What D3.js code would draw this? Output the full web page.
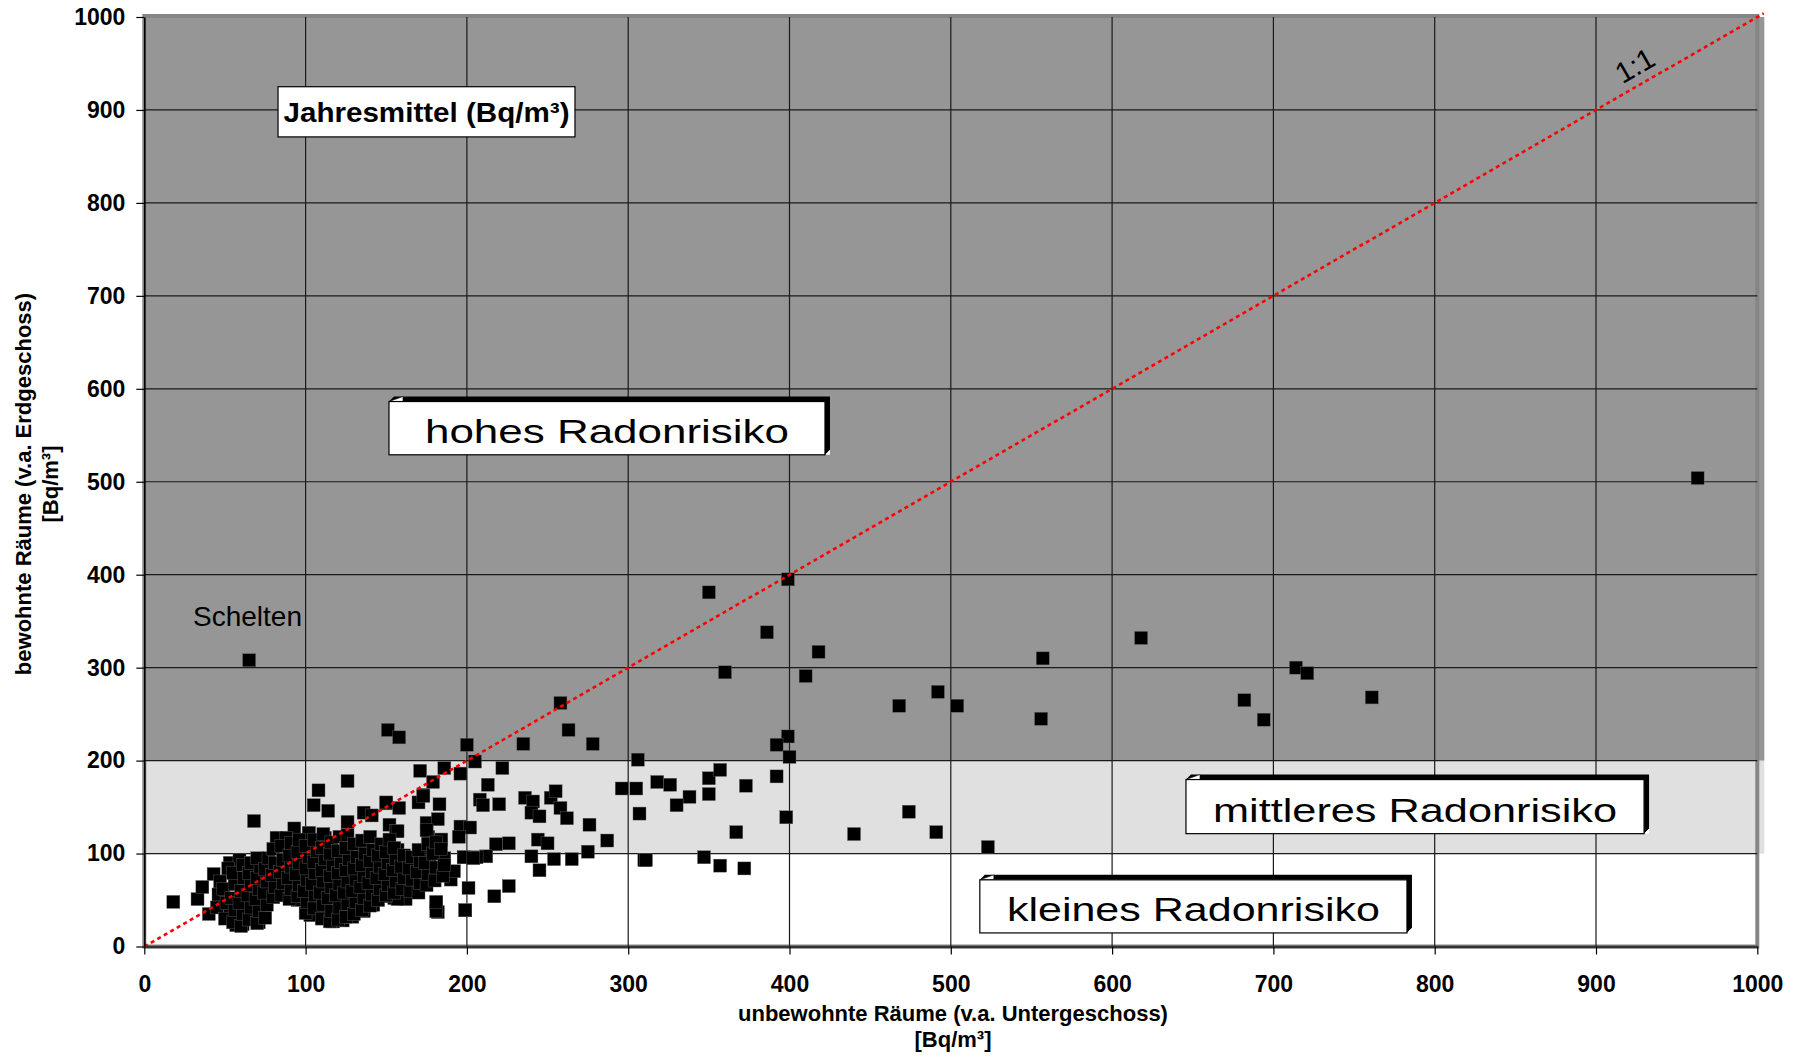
<!DOCTYPE html>
<html>
<head>
<meta charset="utf-8">
<script src="https://cdn.jsdelivr.net/npm/d3@7/dist/d3.min.js"></script>
<style>
  body { margin: 0; background: #fff; }
  svg { display: block; font-family: "Liberation Sans", Arial, sans-serif; }
</style>
</head>
<body>
<svg width="1798" height="1058"></svg>
<script>
// Achsen-Ticks
const ticks = [0, 100, 200, 300, 400, 500, 600, 700, 800, 900, 1000];

// Risikobereiche (Bq/m3 in bewohnten Raeumen)
const bandNames = ["klein", "mittel", "hoch"];
const bandFrom = [0, 100, 200];
const bandTo = [100, 200, 1000];
const bandColors = ["#ffffff", "#e0e0e0", "#969696"];

// Messwerte: [unbewohnte Raeume, bewohnte Raeume]
const messwerte = [
  [65,308],[18,48],[33,51],[36,64],[40,35],[43,78],[68,135],[108,168],[126,178],[105,152],
  [114,146],[151,233],[158,225],[150,154],[136,144],[141,141],[93,127],[102,122],[152,131],[126,134],
  [82,117],[88,117],[112,117],[53,36],[57,23],[61,24],[71,26],[103,34],[117,27],[123,28],
  [129,34],[136,39],[141,45],[155,52],[112,41],[53,90],[59,93],
  [200,217],[235,218],[263,233],[278,218],[258,262],[306,201],[205,199],[222,192],[171,189],
  [186,192],[196,186],[179,177],[213,174],[173,163],[170,155],[158,149],[183,153],[208,158],
  [210,152],[220,153],[236,160],[241,156],[240,144],[245,140],[252,160],[255,167],[258,149],
  [262,138],[296,170],[305,170],[307,143],[276,131],[287,114],[275,102],[265,94],[254,94],
  [244,115],[250,111],[240,97],[245,82],[226,111],[218,110],[212,97],[206,96],[198,96],
  [201,63],[226,65],[217,54],[199,39],[181,47],[182,37],[310,93],[196,129],[202,128],
  [195,118],[184,115],[156,124],
  [350,381],[399,395],[386,338],[418,317],[360,295],[410,291],[492,274],[468,259],[504,259],
  [399,226],[392,217],[400,204],[318,177],[326,174],[338,161],[330,152],[350,181],[357,190],
  [350,164],[373,173],[392,183],[398,139],[367,123],[440,121],[474,145],[491,123],[523,107],
  [311,93],[347,96],[357,87],[372,84],
  [556,245],[557,310],[618,332],[682,265],[694,244],[714,300],[721,294],[761,268],[963,504],
  [150,155],[173,162],[102,122],[157,124],[175,133],[182,137],[176,118],[184,115],[177,99],
  [186,95],[198,96],[204,95],[199,39],[181,38],[181,48],[190,72],[192,81],[169,59],
  [162,51],[157,51],[149,54],[142,45],[136,38],[129,32],[117,27],[103,34],[95,50],
  [148,68],[160,72],[163,83],[157,104],
  [45,42],[46,56],[47,70],[50,30],[51,47],[49,62],[52,84],[55,26],[56,39],[54,52],
  [56,67],[55,79],[60,22],[61,35],[59,47],[60,60],[62,74],[61,88],[65,29],[66,42],
  [64,55],[66,66],[65,79],[66,90],[70,25],[71,38],[69,51],[71,62],[70,74],[72,86],
  [70,95],[75,31],[76,45],[74,58],[76,70],[75,83],[77,95],[80,53],[81,64],[79,77],
  [81,90],[80,105],[85,55],[86,68],[84,80],[86,93],[85,108],[90,51],[91,62],[89,74],
  [91,86],[90,98],[91,111],[95,54],[96,66],[94,78],[96,90],[95,102],[96,115],[100,36],
  [101,48],[99,60],[101,72],[100,84],[102,96],[100,108],[105,41],[106,55],[104,67],[106,79],
  [105,91],[107,103],[105,115],[110,30],[111,45],[109,58],[111,70],[110,82],[112,94],[110,106],
  [111,121],[115,27],[116,38],[114,52],[116,64],[115,76],[117,88],[115,100],[116,112],[120,29],
  [121,42],[119,55],[121,67],[120,79],[122,91],[120,103],[121,118],[125,32],[126,46],[124,58],
  [126,70],[125,82],[127,94],[125,106],[126,120],[130,35],[131,48],[129,60],[131,72],[130,84],
  [132,96],[130,110],[135,39],[136,52],[134,64],[136,76],[135,88],[137,100],[135,114],[140,44],
  [141,56],[139,68],[141,80],[140,92],[142,104],[140,118],[145,50],[146,62],[144,74],[146,86],
  [145,98],[147,110],[150,55],[151,66],[149,78],[151,90],[150,102],[152,115],[155,58],[156,70],
  [154,82],[156,94],[155,106],[160,62],[161,74],[159,86],[161,98],[165,60],[166,72],[164,84],
  [166,96],[170,58],[171,68],[169,80],[171,92],[170,104],[175,66],[176,78],[174,90],[176,110],
  [175,125],[180,71],[181,85],[179,100],[181,112],[185,76],[186,88],[184,105]
];

// Beschriftungen der Bereiche
const boxTexts = ["hohes Radonrisiko", "mittleres Radonrisiko", "kleines Radonrisiko"];
const boxX0 = [151.7, 645.8, 518];
const boxX1 = [422, 929.8, 782.8];
const boxTop = [586.3, 179.6, 71.7];
const boxBottom = [529, 121.4, 14.6];
const boxTextWidth = [364, 404, 373];

const margin = { left: 144.3, right: 40.7, top: 17, bottom: 111.5 };
const W = 1798, H = 1058;
const w = W - margin.left - margin.right;
const h = H - margin.top - margin.bottom;

const svg = d3.select('svg');

const x = d3.scaleLinear().domain([0, 1000]).range([margin.left, margin.left + w]);
const y = d3.scaleLinear().domain([0, 1000]).range([margin.top + h, margin.top]);

// Hintergrund-Bereiche
svg.selectAll('rect.band')
  .data(bandNames)
  .enter()
  .append('rect')
  .attr('class', 'band')
  .attr('x', x(0))
  .attr('y', (d, i) => y(bandTo[i]))
  .attr('width', x(1000) - x(0) + 7)
  .attr('height', (d, i) => y(bandFrom[i]) - y(bandTo[i]))
  .attr('fill', (d, i) => bandColors[i]);

// Rahmen der Zeichenflaeche
svg.append('rect')
  .attr('x', x(0))
  .attr('y', y(1000) - 1)
  .attr('width', x(1000) - x(0))
  .attr('height', y(0) - y(1000) + 1)
  .attr('fill', 'none')
  .attr('stroke', '#858585')
  .attr('stroke-width', 4);

// Gitternetz
svg.selectAll('line.vgrid')
  .data(ticks.slice(1, -1))
  .enter()
  .append('line')
  .attr('x1', d => x(d)).attr('x2', d => x(d))
  .attr('y1', y(0)).attr('y2', y(1000))
  .attr('stroke', '#1a1a1a')
  .attr('stroke-width', 1.2);

svg.selectAll('line.hgrid')
  .data(ticks.slice(1, -1))
  .enter()
  .append('line')
  .attr('x1', x(0)).attr('x2', x(1000))
  .attr('y1', d => y(d)).attr('y2', d => y(d))
  .attr('stroke', '#1a1a1a')
  .attr('stroke-width', 1.2);

// Messpunkte
svg.selectAll('rect.pt')
  .data(messwerte)
  .enter()
  .append('rect')
  .attr('class', 'pt')
  .attr('x', d => x(d[0]) - 6.5)
  .attr('y', d => y(d[1]) - 6.5)
  .attr('width', 13)
  .attr('height', 13)
  .attr('fill', '#000')
  .attr('stroke', '#666')
  .attr('stroke-width', 0.4);

// 1:1 Linie
svg.append('line')
  .attr('x1', x(0)).attr('y1', y(0))
  .attr('x2', x(1004)).attr('y2', y(1004))
  .attr('stroke', '#ff0000')
  .attr('stroke-width', 2.6)
  .attr('stroke-dasharray', '4,3.5');

const angle = Math.atan2(y(0) - y(1000), x(1000) - x(0)) * 180 / Math.PI;
const lx = x(930) - 4.5, ly = y(930) - 7.8;
svg.append('text')
  .text('1:1')
  .attr('x', lx).attr('y', ly)
  .attr('text-anchor', 'middle')
  .attr('font-size', 29)
  .attr('transform', `rotate(${-angle},${lx},${ly})`);

// Achsen
const yAxis = d3.axisLeft(y).tickValues(ticks).tickFormat(d3.format('d'))
  .tickSize(8).tickSizeOuter(0).tickPadding(11);
const gy = svg.append('g')
  .attr('transform', `translate(${x(0)},0)`)
  .call(yAxis);

const xAxis = d3.axisBottom(x).tickValues(ticks).tickFormat(d3.format('d'))
  .tickSize(8).tickSizeOuter(0).tickPadding(21);
const gx = svg.append('g')
  .attr('transform', `translate(0,${y(0)})`)
  .call(xAxis);

[gx, gy].forEach(g => {
  g.attr('font-family', null).attr('font-size', null);
  g.selectAll('.domain').attr('stroke', '#000').attr('stroke-width', 1.6);
  g.selectAll('.tick line').attr('stroke', '#000').attr('stroke-width', 1.2);
  g.selectAll('text')
    .attr('font-size', 23)
    .attr('font-weight', 'bold')
    .attr('fill', '#000');
});
gx.select('.domain').attr('stroke', '#333').attr('stroke-width', 2.5);

// Achsentitel
svg.append('text')
  .attr('x', 953).attr('y', 1021)
  .attr('text-anchor', 'middle')
  .attr('font-size', 22)
  .attr('font-weight', 'bold')
  .text('unbewohnte Räume (v.a. Untergeschoss)');
svg.append('text')
  .attr('x', 953).attr('y', 1047)
  .attr('text-anchor', 'middle')
  .attr('font-size', 22)
  .attr('font-weight', 'bold')
  .text('[Bq/m³]');

svg.append('text')
  .attr('transform', 'translate(31,484) rotate(-90)')
  .attr('text-anchor', 'middle')
  .attr('font-size', 22)
  .attr('font-weight', 'bold')
  .text('bewohnte Räume (v.a. Erdgeschoss)');
svg.append('text')
  .attr('transform', 'translate(58,484) rotate(-90)')
  .attr('text-anchor', 'middle')
  .attr('font-size', 22)
  .attr('font-weight', 'bold')
  .text('[Bq/m³]');

// Schelten
svg.append('text')
  .attr('x', x(30.2)).attr('y', y(344.7))
  .attr('font-size', 28)
  .text('Schelten');

// Jahresmittel-Kasten
svg.append('rect')
  .attr('x', x(82.9)).attr('y', y(925))
  .attr('width', x(267) - x(82.9))
  .attr('height', y(871) - y(925))
  .attr('fill', '#fff')
  .attr('stroke', '#000')
  .attr('stroke-width', 1.2);
svg.append('text')
  .attr('x', (x(82.9) + x(267)) / 2).attr('y', y(925) + 35)
  .attr('text-anchor', 'middle')
  .attr('font-size', 28)
  .attr('font-weight', 'bold')
  .attr('textLength', 286)
  .attr('lengthAdjust', 'spacingAndGlyphs')
  .text('Jahresmittel (Bq/m³)');

// Risiko-Kaesten mit 3D-Kante
const d = 5;
boxTexts.forEach((t, i) => {
  const l = x(boxX0[i]), r = x(boxX1[i]), tp = y(boxTop[i]), b = y(boxBottom[i]);
  svg.append('polygon')
    .attr('points', [[l, tp], [l + d, tp - d], [r + d, tp - d], [r + d, b - d], [r, b], [r, tp]].join(' '))
    .attr('fill', '#000');
  svg.append('polygon')
    .attr('points', [[l, tp], [l + 14, tp - d], [l + 14, tp]].join(' '))
    .attr('fill', '#fff')
    .attr('stroke', '#000')
    .attr('stroke-width', 0.6);
  svg.append('polygon')
    .attr('points', [[r, b], [r + d, b - d], [r + d, b]].join(' '))
    .attr('fill', '#fff');
  svg.append('rect')
    .attr('x', l).attr('y', tp)
    .attr('width', r - l).attr('height', b - tp)
    .attr('fill', '#fff')
    .attr('stroke', '#000')
    .attr('stroke-width', 1.2);
  svg.append('text')
    .attr('x', (l + r) / 2).attr('y', b - 12)
    .attr('text-anchor', 'middle')
    .attr('font-size', 34)
    .attr('textLength', boxTextWidth[i])
    .attr('lengthAdjust', 'spacingAndGlyphs')
    .text(t);
});
</script>
</body>
</html>
